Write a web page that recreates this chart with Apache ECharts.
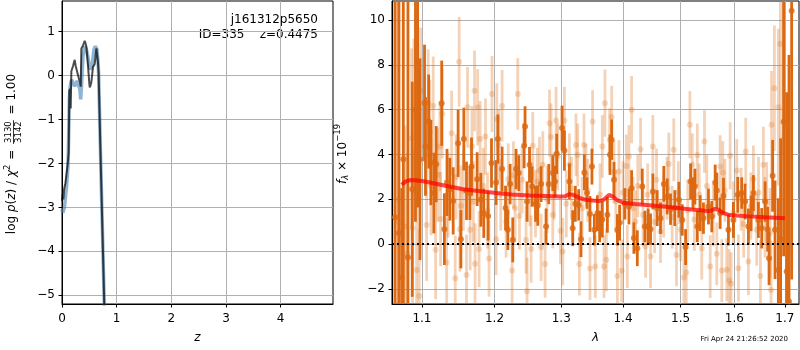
<!DOCTYPE html>
<html>
<head>
<meta charset="utf-8">
<script src="https://cdn.jsdelivr.net/npm/echarts@6/dist/echarts.min.js"></script>
<style>
html, body { margin: 0; padding: 0; background: #fff; }
#chart { width: 800px; height: 350px; }
</style>
</head>
<body>
<div id="chart"></div>
<script>
// ---- left panel: log p(z)
const zTicks = [0, 1, 2, 3, 4];
const lnpTicks = [-5, -4, -3, -2, -1, 0, 1];

const fitZ = [0.000, 0.012, 0.024, 0.036, 0.049, 0.062, 0.075, 0.086, 0.100, 0.112, 0.122, 0.134, 0.146, 0.153, 0.159, 0.171, 0.186, 0.202, 0.218, 0.232, 0.250, 0.275, 0.305, 0.330, 0.342, 0.354, 0.379, 0.400, 0.415, 0.430, 0.446, 0.476, 0.495, 0.507, 0.522, 0.537, 0.567, 0.598, 0.614, 0.629, 0.647, 0.659, 0.670, 0.685, 0.700, 0.720, 0.740, 0.760, 0.780, 0.795];
const fitLnp = [-2.85, -2.70, -2.82, -2.60, -2.52, -2.45, -2.32, -2.20, -2.05, -1.90, -1.75, -0.35, -0.30, -0.27, -0.75, 0.10, 0.12, 0.22, 0.30, 0.36, 0.22, 0.10, -0.05, -0.15, -0.25, 0.62, 0.67, 0.70, 0.79, 0.74, 0.66, 0.22, -0.10, -0.27, -0.22, -0.15, 0.20, 0.26, 0.45, 0.62, 0.62, 0.30, 0.05, -0.75, -1.55, -2.55, -3.55, -4.55, -5.55, -6.30];

const priorZ = [0.000, 0.015, 0.030, 0.045, 0.060, 0.085, 0.110, 0.122, 0.134, 0.146, 0.159, 0.180, 0.202, 0.232, 0.255, 0.275, 0.305, 0.325, 0.342, 0.354, 0.370, 0.384, 0.415, 0.446, 0.476, 0.500, 0.518, 0.549, 0.585, 0.610, 0.640, 0.659, 0.670, 0.685, 0.700, 0.720, 0.740, 0.760, 0.780, 0.795];
const priorLnp = [-3.05, -3.12, -3.15, -3.00, -2.81, -2.50, -2.05, -1.40, -0.54, -0.30, -0.16, -0.10, -0.12, -0.24, -0.18, -0.12, -0.16, -0.30, -0.54, -0.31, 0.10, 0.45, 0.67, 0.60, 0.41, 0.22, 0.14, 0.22, 0.60, 0.67, 0.60, 0.30, 0.05, -0.75, -1.55, -2.55, -3.55, -4.55, -5.55, -6.30];

// ---- right panel: spectrum
const waveTicks = [1.1, 1.2, 1.3, 1.4, 1.5, 1.6, 1.7];
const fluxTicks = [-2, 0, 2, 4, 6, 8, 10];

const darkWave = [1.0650, 1.0700, 1.0736, 1.0757, 1.0817, 1.0873, 1.0915, 1.0943, 1.0974, 1.1034, 1.1047, 1.1089, 1.1119, 1.1158, 1.1190, 1.1264, 1.1300, 1.1336, 1.1375, 1.1420, 1.1488, 1.1526, 1.1567, 1.1604, 1.1651, 1.1674, 1.1753, 1.1805, 1.1847, 1.1909, 1.1957,
  1.2024, 1.2049, 1.2110, 1.2160, 1.2194, 1.2227, 1.2266, 1.2315, 1.2355, 1.2434, 1.2448, 1.2478, 1.2515, 1.2554, 1.2605, 1.2640, 1.2690, 1.2766, 1.2807, 1.2869, 1.2904, 1.2930, 1.3013, 1.3050, 1.3128, 1.3180, 1.3222, 1.3275, 1.3312, 1.3366, 1.3408, 1.3456, 1.3488, 1.3527,
  1.3576, 1.3613, 1.3657, 1.3740, 1.3783, 1.3811, 1.3849, 1.3906, 1.3943, 1.4032, 1.4100, 1.4145, 1.4184, 1.4242, 1.4327, 1.4372, 1.4430, 1.4470, 1.4510, 1.4586, 1.4644, 1.4702, 1.4762, 1.4821, 1.4898, 1.4970, 1.5031, 1.5091, 1.5182, 1.5225, 1.5261, 1.5305,
  1.5358, 1.5418, 1.5511, 1.5573, 1.5636, 1.5667, 1.5730, 1.5793, 1.5887, 1.5982, 1.6065, 1.6142, 1.6208, 1.6272, 1.6325, 1.6370, 1.6468, 1.6534, 1.6601, 1.6652, 1.6680, 1.6752, 1.6800, 1.6867, 1.6913, 1.6974, 1.7036, 1.7084, 1.7138];
const darkFlux = [1.20, 0.50, -1.50, 3.79, -0.60, 2.45, 6.00, 8.14, 3.79, 6.30, 4.36, 5.47, 3.64, 2.28, 3.57, 6.29, 0.67, 2.75, 2.45, 1.93, 4.50, 0.22, 4.69, 2.38, 2.28, 3.46, 2.90, 1.98, 1.38, 1.26, 3.62,
  2.75, 4.69, 3.35, 1.61, 0.64, 2.68, 0.19, 3.35, 3.17, 4.39, 5.25, 1.90, 3.54, 2.57, 1.80, 1.72, 2.68, 0.79, 2.68, 3.17, 2.80, 4.03, 5.18, 4.18, 2.80, 0.71, 1.80, 1.75, 0.22, 3.20, 2.28, 1.35, 3.46, 0.64,
  1.38, 0.79, 1.10, 1.31, 3.99, 4.66, 2.87, 0.64, 0.96, 1.80, 1.68, 2.50, 0.27, -0.18, 2.57, 0.79, 0.79, 0.67, 2.35, 1.61, 1.16, 2.69, 2.13, 1.56, 1.61, 1.98, 1.08, -0.13, 2.80, 2.28, 2.57, 0.79,
  1.38, 1.16, 1.68, 1.23, 2.75, 2.39, 1.38, 2.16, 0.64, 1.08, 2.20, 2.28, 1.90, 0.79, 1.38, 2.28, 1.08, 0.71, 1.90, 0.67, -0.63, 3.05, 0.64, -1.15, 0.22, 5.46, -1.22, -2.56, 10.42];
const darkErr = [14.0, 13.0, 4.0, 9.0, 12.0, 4.8, 5.0, 6.5, 4.5, 2.6, 2.2, 2.1, 1.9, 1.8, 1.7, 1.9, 1.6, 1.5, 1.4, 1.5, 1.5, 1.3, 1.4, 1.3, 1.2, 1.3, 1.2, 1.2, 1.1, 1.1, 1.1,
  1.0, 1.1, 1.0, 1.0, 0.9, 0.9, 1.0, 0.9, 0.8, 1.0, 0.9, 0.9, 0.8, 0.9, 0.8, 0.9, 0.8, 0.8, 0.9, 0.8, 0.7, 0.9, 1.0, 0.9, 0.8, 0.8, 0.8, 0.7, 0.8, 0.8, 0.7, 0.8, 0.8, 0.7,
  0.8, 0.7, 0.8, 0.8, 0.9, 0.9, 0.8, 0.7, 0.8, 0.7, 0.8, 0.8, 0.7, 0.8, 0.8, 0.7, 0.8, 0.7, 0.8, 0.8, 0.7, 0.8, 0.8, 0.7, 0.8, 0.8, 0.7, 0.8, 0.8, 0.7, 0.8, 0.7,
  0.8, 0.7, 0.8, 0.7, 0.8, 0.8, 0.7, 0.8, 0.7, 0.8, 0.8, 0.7, 0.8, 0.8, 0.8, 0.8, 0.8, 0.9, 0.9, 1.0, 1.2, 1.6, 2.2, 3.2, 4.5, 6.0, 8.0, 11.0, 12.0];

const lightWave = [1.0680, 1.0700, 1.0778, 1.0807, 1.0864, 1.0877, 1.0894, 1.0930, 1.0964, 1.0982, 1.1062, 1.1083, 1.1105, 1.1120, 1.1150, 1.1182, 1.1210, 1.1240, 1.1249, 1.1271, 1.1331, 1.1350, 1.1398, 1.1448, 1.1460, 1.1502, 1.1512, 1.1526, 1.1560, 1.1604, 1.1618, 1.1655, 1.1680, 1.1700, 1.1716, 1.1724, 1.1760, 1.1781, 1.1795, 1.1840, 1.1871, 1.1900, 1.1922, 1.1964,
  1.2024, 1.2034, 1.2063, 1.2090, 1.2110, 1.2168, 1.2200, 1.2256, 1.2276, 1.2300, 1.2340, 1.2365, 1.2404, 1.2463, 1.2478, 1.2520, 1.2539, 1.2564, 1.2605, 1.2630, 1.2665, 1.2690, 1.2716, 1.2751, 1.2780, 1.2818, 1.2842, 1.2869, 1.2890, 1.2920, 1.2946, 1.2988, 1.3024, 1.3050, 1.3080, 1.3128, 1.3160, 1.3232, 1.3259, 1.3286, 1.3330, 1.3360, 1.3392, 1.3420, 1.3456, 1.3499, 1.3543,
  1.3620, 1.3657, 1.3684, 1.3700, 1.3723, 1.3777, 1.3811, 1.3849, 1.3880, 1.3906, 1.3932, 1.3977, 1.4000, 1.4055, 1.4072, 1.4100, 1.4145, 1.4170, 1.4213, 1.4250, 1.4298, 1.4340, 1.4384, 1.4420, 1.4470, 1.4510, 1.4540, 1.4574, 1.4644, 1.4700, 1.4760, 1.4791, 1.4850, 1.4879, 1.4927, 1.4960, 1.5000, 1.5060, 1.5104, 1.5130, 1.5169, 1.5213, 1.5250, 1.5305,
  1.5340, 1.5387, 1.5437, 1.5480, 1.5543, 1.5600, 1.5667, 1.5730, 1.5761, 1.5780, 1.5820, 1.5855, 1.5900, 1.5919, 1.5938, 1.5980, 1.6046, 1.6079, 1.6130, 1.6180, 1.6220, 1.6272, 1.6320, 1.6370, 1.6435, 1.6470, 1.6508, 1.6567, 1.6600, 1.6633, 1.6700, 1.6720, 1.6730, 1.6787, 1.6867, 1.6908, 1.6970];
const lightFlux = [1.00, 2.00, 0.79, -0.43, 4.73, 0.71, 5.67, -1.15, -2.31, 6.86, 0.86, 6.29, 5.03, 2.60, 6.17, -0.25, 3.10, 4.36, 1.12, 5.82, -0.82, 2.20, 4.95, -1.52, 3.00, 8.14, 0.67, 1.71, 2.40, -1.38, 6.11, 0.64, 4.36, 1.90, 6.84, -0.87, 6.11, -0.22, 4.69, 2.60, 4.80, 1.50, -0.64, 6.70,
  0.22, 5.58, 4.43, 2.20, 6.17, 1.00, 2.90, -1.18, 3.09, 1.60, 6.70, 1.26, 2.87, 0.19, -2.10, 2.30, -0.22, 4.39, 1.80, 2.80, 3.29, -0.14, 3.54, -0.89, 2.00, 5.40, 4.78, 1.31, 2.60, 5.52, 3.91, 0.60, -0.33, 5.52, 1.80, 3.54, 2.50, 4.43, 3.98, -0.89, 1.60, 4.43, 3.09, 2.40, -1.09, 5.47, -1.00,
  2.20, 4.36, -1.00, 6.29, -0.70, 4.66, 5.67, 3.24, 1.90, -1.42, 3.24, -1.19, 2.30, 3.49, -0.55, 3.91, 6.00, 1.60, 1.01, 2.60, 4.24, 1.30, -0.10, 2.20, -0.55, 4.36, 1.00, 2.87, 0.56, 1.70, 2.50, 3.58, 1.20, 4.21, -0.48, 2.30, 0.64, -1.49, -1.27, 1.50, 5.33, 3.54, 1.10, 3.98,
  2.20, -0.18, 4.58, 2.60, -1.00, 1.30, -0.43, 3.46, -1.18, 3.20, 2.40, -1.14, -1.62, 3.94, -1.77, 1.40, 3.29, -1.07, 2.00, 0.90, 4.14, -0.77, 1.70, 2.90, 0.64, 2.30, -1.42, 3.54, 1.20, 1.86, 0.50, -2.04, 5.33, 6.96, 6.11, 8.94, 12.00];
const lightErr = [10.0, 9.0, 4.5, 4.5, 4.0, 3.5, 3.5, 3.2, 3.0, 2.8, 2.5, 2.4, 2.3, 2.2, 2.2, 2.2, 2.1, 2.0, 2.1, 2.0, 2.0, 1.9, 1.9, 1.9, 1.9, 2.0, 1.9, 1.8, 1.8, 1.8, 1.8, 1.8, 1.8, 1.8, 1.8, 1.8, 1.7, 1.7, 1.7, 1.7, 1.7, 1.7, 1.7, 1.7,
  1.6, 1.6, 1.6, 1.6, 1.6, 1.6, 1.6, 1.5, 1.5, 1.5, 1.6, 1.5, 1.5, 1.5, 1.5, 1.5, 1.5, 1.5, 1.5, 1.5, 1.5, 1.5, 1.5, 1.5, 1.5, 1.5, 1.5, 1.5, 1.5, 1.5, 1.5, 1.5, 1.5, 1.5, 1.5, 1.4, 1.4, 1.4, 1.4, 1.4, 1.4, 1.4, 1.4, 1.4, 1.4, 1.4, 1.4,
  1.4, 1.4, 1.4, 1.5, 1.4, 1.4, 1.4, 1.4, 1.4, 1.4, 1.4, 1.4, 1.4, 1.4, 1.4, 1.4, 1.5, 1.4, 1.4, 1.4, 1.4, 1.4, 1.4, 1.4, 1.4, 1.4, 1.4, 1.4, 1.4, 1.4, 1.4, 1.4, 1.4, 1.4, 1.4, 1.4, 1.4, 1.4, 1.4, 1.4, 1.5, 1.4, 1.4, 1.4,
  1.4, 1.4, 1.4, 1.4, 1.4, 1.4, 1.4, 1.4, 1.4, 1.4, 1.4, 1.4, 1.4, 1.5, 1.4, 1.4, 1.4, 1.5, 1.4, 1.5, 1.5, 1.5, 1.5, 1.5, 1.6, 1.6, 1.6, 1.7, 1.8, 1.8, 2.0, 2.2, 2.4, 2.8, 3.5, 5.0, 8.0];

const modelWave = [1.0736, 1.0790, 1.0843, 1.0900, 1.1000, 1.1105, 1.1300, 1.1558, 1.1800, 1.2028, 1.2250, 1.2514, 1.2750, 1.2980, 1.3060, 1.3122, 1.3180, 1.3239, 1.3300, 1.3385, 1.3500, 1.3614, 1.3680, 1.3767, 1.3830, 1.3893, 1.4000, 1.4200, 1.4396, 1.4700, 1.5000, 1.5200, 1.5407, 1.5530, 1.5620, 1.5680, 1.5780, 1.5906, 1.6100, 1.6287, 1.6600, 1.7000];
const modelFlux = [2.65, 2.80, 2.86, 2.85, 2.82, 2.75, 2.62, 2.45, 2.36, 2.28, 2.22, 2.17, 2.15, 2.13, 2.14, 2.23, 2.21, 2.13, 2.05, 1.98, 1.95, 1.93, 1.98, 2.20, 2.12, 1.98, 1.85, 1.79, 1.75, 1.68, 1.60, 1.55, 1.50, 1.47, 1.57, 1.55, 1.40, 1.30, 1.27, 1.24, 1.20, 1.16];

const FONT = 'DejaVu Sans';
const DARK = '#dc6912';
const LIGHT = 'rgba(220,105,18,0.3)';

const chart = echarts.init(document.getElementById('chart'));

const minus = (v) => (v < 0 ? '\u2212' + Math.abs(v) : String(v));

function axis(extra, ticks, fmt, margin) {
  return Object.assign({
    axisLine: { show: true, onZero: false, lineStyle: { color: '#000', width: 1 } },
    axisTick: { show: true, length: 3.5, customValues: ticks, lineStyle: { color: '#000', width: 1 } },
    axisLabel: { customValues: ticks, formatter: fmt, color: '#000', fontSize: 12, fontFamily: FONT, margin },
    splitLine: { show: true, lineStyle: { color: '#b0b0b0', width: 1 } }
  }, extra);
}

function errorBars(wave, flux, err, color) {
  return {
    type: 'custom', xAxisIndex: 1, yAxisIndex: 1, clip: true, silent: true,
    data: wave.map((w, i) => [w, flux[i] - err[i], flux[i] + err[i]]),
    encode: { x: 0, y: [1, 2] },
    renderItem: (params, api) => {
      const a = api.coord([api.value(0), api.value(1)]);
      const b = api.coord([api.value(0), api.value(2)]);
      return { type: 'line', shape: { x1: a[0], y1: a[1], x2: b[0], y2: b[1] }, style: { stroke: color, lineWidth: 2.8 } };
    }
  };
}

function points(wave, flux, color) {
  return {
    type: 'scatter', xAxisIndex: 1, yAxisIndex: 1, symbol: 'circle', symbolSize: 6, silent: true,
    data: wave.map((w, i) => [w, flux[i]]),
    itemStyle: { color }
  };
}

// rotated math-like label, laid out piece by piece
const mctx = document.createElement('canvas').getContext('2d');
function textWidth(t, size, italic) {
  mctx.font = (italic ? 'italic ' : '') + size + 'px "' + FONT + '"';
  return mctx.measureText(t).width;
}
function txt(t, x, y, size, italic, align) {
  return { type: 'text', x, y, style: { text: t, fontSize: size, fontFamily: FONT, fontStyle: italic ? 'italic' : 'normal', fill: '#000', align, verticalAlign: 'middle' } };
}
function verticalLabel(cx, cy, parts) {
  parts.forEach((p) => {
    p.w = (p.frac ? Math.max(textWidth(p.frac[0], p.size), textWidth(p.frac[1], p.size)) + 2 : textWidth(p.t, p.size, p.italic)) + (p.pad || 0);
  });
  const total = parts.reduce((s, p) => s + p.w, 0);
  let x = -total / 2;
  const children = [];
  parts.forEach((p) => {
    const dy = p.dy || 0;
    const x0 = x + (p.pad || 0) / 2;
    const w = p.w - (p.pad || 0);
    if (p.frac) {
      children.push(txt(p.frac[0], x0 + w / 2, dy - 5, p.size, false, 'center'));
      children.push(txt(p.frac[1], x0 + w / 2, dy + 5.5, p.size, false, 'center'));
      children.push({ type: 'line', shape: { x1: x0, y1: dy, x2: x0 + w, y2: dy }, style: { stroke: '#000', lineWidth: 0.8 } });
    } else {
      children.push(txt(p.t, x0, dy, p.size, p.italic, 'left'));
    }
    x += p.w;
  });
  return { type: 'group', x: cx, y: cy, rotation: Math.PI / 2, children };
}

chart.setOption({
  animation: false,
  backgroundColor: '#fff',
  grid: [
    { left: 62, top: 1, width: 271, height: 303, show: true, borderColor: '#000', borderWidth: 1 },
    { left: 392, top: 1, width: 407, height: 303, show: true, borderColor: '#000', borderWidth: 1 }
  ],
  xAxis: [
    axis({ gridIndex: 0, type: 'value', min: 0, max: 4.957, name: 'z', nameLocation: 'middle', nameGap: 28,
      nameTextStyle: { fontSize: 12, fontStyle: 'italic', fontFamily: FONT, color: '#000' } }, zTicks, minus, 9),
    axis({ gridIndex: 1, type: 'log', logBase: 10, min: 1.0612, max: 1.729, name: 'λ', nameLocation: 'middle', nameGap: 28,
      nameTextStyle: { fontSize: 12, fontStyle: 'italic', fontFamily: FONT, color: '#000' } }, waveTicks, (v) => Number(v).toFixed(1), 9)
  ],
  yAxis: [
    axis({ gridIndex: 0, type: 'value', min: -5.2, max: 1.7 }, lnpTicks, minus, 7),
    axis({ gridIndex: 1, type: 'value', min: -2.67, max: 10.85 }, fluxTicks, minus, 7)
  ],
  series: [
    { type: 'line', xAxisIndex: 0, yAxisIndex: 0, showSymbol: false, silent: true,
      data: priorZ.map((z, i) => [z, priorLnp[i]]),
      lineStyle: { color: 'rgba(70,130,180,0.6)', width: 3.5 } },
    { type: 'line', xAxisIndex: 0, yAxisIndex: 0, showSymbol: false, silent: true,
      data: fitZ.map((z, i) => [z, fitLnp[i]]),
      lineStyle: { color: 'rgba(0,0,0,0.7)', width: 2 } },
    errorBars(lightWave, lightFlux, lightErr, LIGHT),
    points(lightWave, lightFlux, LIGHT),
    errorBars(darkWave, darkFlux, darkErr, DARK),
    points(darkWave, darkFlux, DARK),
    { type: 'line', xAxisIndex: 1, yAxisIndex: 1, showSymbol: false, silent: true,
      data: modelWave.map((w, i) => [w, modelFlux[i]]),
      lineStyle: { color: 'rgba(255,0,0,0.72)', width: 4 },
      markLine: { symbol: 'none', silent: true, label: { show: false },
        lineStyle: { color: '#000', type: [2, 3], width: 2 },
        data: [{ yAxis: 0 }] } }
  ],
  graphic: [
    verticalLabel(12, 153.5, [
      { t: 'log ', size: 12 }, { t: 'p', size: 12, italic: true }, { t: '(', size: 12 }, { t: 'z', size: 12, italic: true },
      { t: ') / ', size: 12 }, { t: 'χ', size: 12, italic: true }, { t: '2', size: 8.5, dy: -4 }, { t: ' = ', size: 12, pad: 2 },
      { frac: ['3130', '3142'], size: 8.5, dy: 1.5, pad: 2 }, { t: ' = 1.00', size: 12, pad: 2 }
    ]),
    verticalLabel(343, 154, [
      { t: 'f', size: 12, italic: true }, { t: 'λ', size: 8.5, italic: true, dy: 3 }, { t: ' × 10', size: 12 }, { t: '\u221219', size: 8.5, dy: -5 }
    ]),
    { type: 'text', x: 318, y: 20, style: { text: 'j161312p5650', fontSize: 12, fontFamily: FONT, fill: '#000', align: 'right', verticalAlign: 'middle' } },
    { type: 'text', x: 318, y: 34.5, style: { text: 'ID=335    z=0.4475', fontSize: 12, fontFamily: FONT, fill: '#000', align: 'right', verticalAlign: 'middle' } },
    { type: 'text', x: 788, y: 339.5, style: { text: 'Fri Apr 24 21:26:52 2020', fontSize: 7, fontFamily: FONT, fill: '#000', align: 'right', verticalAlign: 'middle' } }
  ]
});
</script>
</body>
</html>
